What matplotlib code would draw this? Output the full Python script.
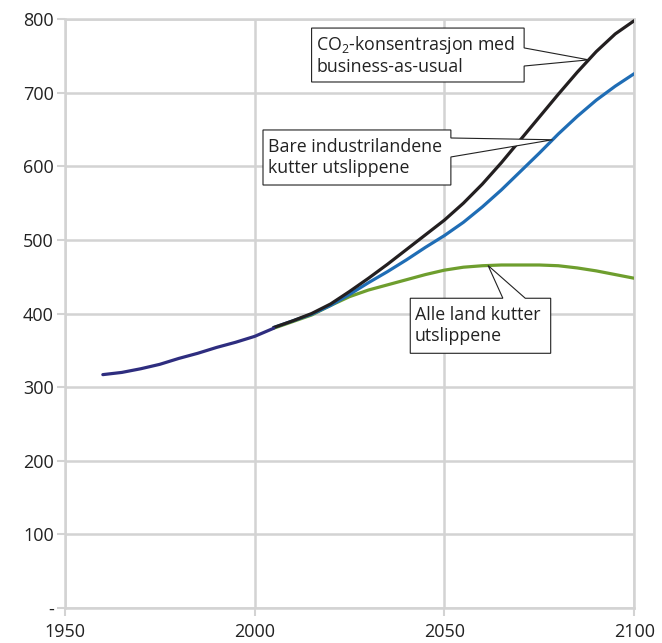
import numpy as np
import matplotlib
matplotlib.use("Agg")
import matplotlib.pyplot as plt
from matplotlib.patches import Polygon

plt.rcParams['font.family'] = ['Open Sans', 'DejaVu Sans']
plt.rcParams['mathtext.fontset'] = 'custom'
plt.rcParams['mathtext.rm'] = 'Open Sans'
plt.rcParams['mathtext.it'] = 'Open Sans'

# ---- data ----
hist_years = [1960, 1965, 1970, 1975, 1980, 1985, 1990, 1995, 2000, 2005]
hist_vals = [317, 320, 325, 331, 339, 346, 354, 361, 369, 380]

fut_years = [2005, 2010, 2015, 2020, 2025, 2030, 2035, 2040, 2045, 2050,
             2055, 2060, 2065, 2070, 2075, 2080, 2085, 2090, 2095, 2100]
bau_vals = [381, 390, 400, 413, 430, 448, 467, 487, 507, 527,
            550, 576, 605, 636, 667, 698, 728, 756, 780, 798]
ind_vals = [381, 390, 399, 411, 426, 442, 457, 473, 490, 506,
            524, 545, 568, 593, 618, 644, 668, 690, 709, 726]
all_vals = [380, 389, 398, 411, 423, 432, 439, 446, 453, 459,
            463, 465, 466, 466, 466, 465, 462, 458, 453, 448]

x_ticks = [1950, 2000, 2050, 2100]
y_ticks = [0, 100, 200, 300, 400, 500, 600, 700, 800]
y_ticklabels = ['-', '100', '200', '300', '400', '500', '600', '700', '800']

label_bau = 'CO$_\\mathrm{2}$-konsentrasjon med\nbusiness-as-usual'
label_ind = 'Bare industrilandene\nkutter utslippene'
label_all = 'Alle land kutter\nutslippene'

# ---- figure ----
fig = plt.figure(figsize=(6.62, 6.43), dpi=100)
ax = fig.add_axes([0.098, 0.0546, 0.860, 0.9155])

grid_c = '#d3d3d3'
ax.set_xlim(1950, 2100)
ax.set_ylim(0, 800)
ax.set_xticks(x_ticks)
ax.set_yticks(y_ticks)
ax.set_yticklabels(y_ticklabels)
ax.grid(True, color=grid_c, linewidth=1.8)
ax.set_axisbelow(True)
for s in ax.spines.values():
    s.set_color(grid_c)
    s.set_linewidth(1.8)
ax.tick_params(axis='both', colors=grid_c, labelcolor='#222222', labelsize=13,
               length=6, width=1.5)
ax.tick_params(axis='x', pad=5)
ax.tick_params(axis='y', pad=2)

lw = 2.3
ax.plot(fut_years, all_vals, color='#6e9e2e', lw=lw, solid_capstyle='round', zorder=3)
ax.plot(fut_years, ind_vals, color='#1f6db5', lw=lw, solid_capstyle='round', zorder=4)
ax.plot(fut_years, bau_vals, color='#231f20', lw=lw, solid_capstyle='round', zorder=5)
ax.plot(hist_years, hist_vals, color='#2e2d7f', lw=lw, solid_capstyle='round', zorder=6)

fs_ann = 12.8
ls_ann = 1.2


def callout_right(x0, x1, y0, y1, wy0, wy1, tip, text):
    # box with wedge leaving from right edge
    pts = [(x0, y0), (x0, y1), (x1, y1), (x1, wy0), tip, (x1, wy1), (x1, y0)]
    ax.add_patch(Polygon(pts, closed=True, facecolor='white', edgecolor='#222222',
                         lw=0.8, zorder=10, joinstyle='miter'))
    ax.text(x0 + 1.2, (y0 + y1) / 2, text, ha='left', va='center', fontsize=fs_ann,
            color='#222222', zorder=11, linespacing=ls_ann)


def callout_top(x0, x1, y0, y1, wx0, wx1, tip, text):
    pts = [(x0, y0), (x0, y1), (wx0, y1), tip, (wx1, y1), (x1, y1), (x1, y0)]
    ax.add_patch(Polygon(pts, closed=True, facecolor='white', edgecolor='#222222',
                         lw=0.8, zorder=10, joinstyle='miter'))
    ax.text(x0 + 1.2, (y0 + y1) / 2, text, ha='left', va='center', fontsize=fs_ann,
            color='#222222', zorder=11, linespacing=ls_ann)


tip_bau = (2088, float(np.interp(2088, fut_years, bau_vals)))
tip_ind = (2078.5, float(np.interp(2078.5, fut_years, ind_vals)))
tip_all = (2061.5, float(np.interp(2061.5, fut_years, all_vals)))

callout_right(2015.0, 2071.0, 714.7, 788.0, 761, 736.4, tip_bau, label_bau)
callout_right(2002.2, 2051.7, 574.7, 649.5, 638.6, 612.8, tip_ind, label_ind)
callout_top(2041.0, 2078.0, 346.0, 420.8, 2065.4, 2071.3, tip_all, label_all)

fig.savefig('out.png', dpi=100)
